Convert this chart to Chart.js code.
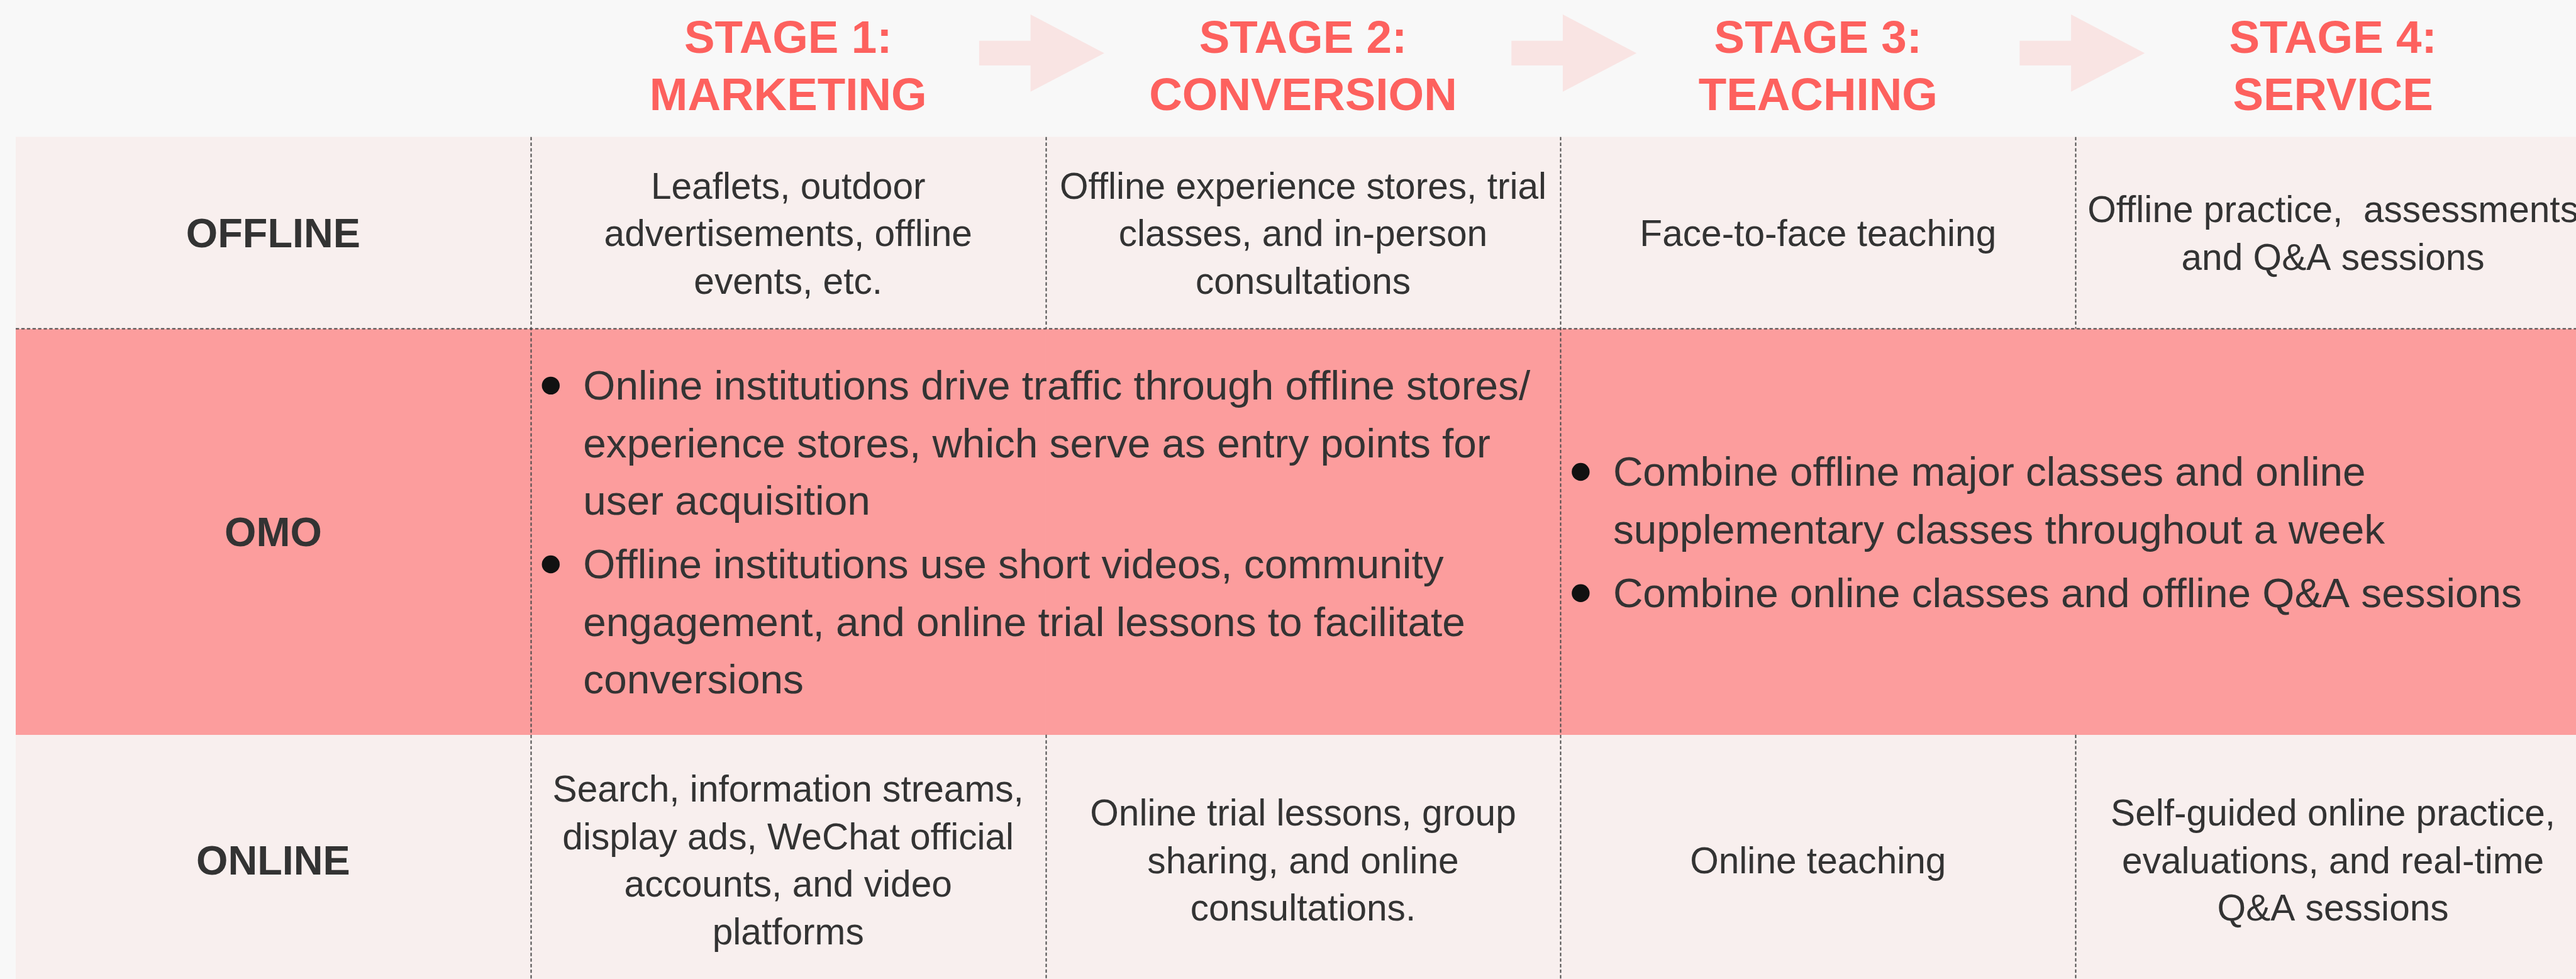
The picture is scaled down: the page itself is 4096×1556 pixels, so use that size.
<!DOCTYPE html>
<html>
<head>
<meta charset="utf-8">
<script src="https://cdn.jsdelivr.net/npm/chart.js@4.4.1/dist/chart.umd.min.js"></script>
<style>
html, body { margin: 0; padding: 0; background: #f8f8f8; overflow: hidden; }
#wrap { width: 4096px; height: 1556px; overflow: hidden; }
canvas { display: block; }
</style>
</head>
<body>
<div id="wrap"><canvas id="canvas" width="4119" height="1556"></canvas></div>
<script>
// table columns, the first one holds the row labels
const columns = ['', 'STAGE 1', 'STAGE 2', 'STAGE 3', 'STAGE 4']
const stageTitles = [
    ['STAGE 1:', 'MARKETING'],
    ['STAGE 2:', 'CONVERSION'],
    ['STAGE 3:', 'TEACHING'],
    ['STAGE 4:', 'SERVICE']
]
const rowLabels = ['OFFLINE', 'OMO', 'ONLINE']

const offlineCells = [
    ['Leaflets, outdoor', 'advertisements, offline', 'events, etc.'],
    ['Offline experience stores, trial', 'classes, and in-person', 'consultations'],
    ['Face-to-face teaching'],
    ['Offline practice,  assessments', 'and Q&A sessions']
]
const onlineCells = [
    ['Search, information streams,', 'display ads, WeChat official', 'accounts, and video', 'platforms'],
    ['Online trial lessons, group', 'sharing, and online', 'consultations.'],
    ['Online teaching'],
    ['Self-guided online practice,', 'evaluations, and real-time', 'Q&A sessions']
]
// omo cells are merged: stage 1+2 and stage 3+4
const omoSpans = [[1, 2], [3, 4]]
const omoCells = [
    [
        ['Online institutions drive traffic through offline stores/', 'experience stores, which serve as entry points for', 'user acquisition'],
        ['Offline institutions use short videos, community', 'engagement, and online trial lessons to facilitate', 'conversions']
    ],
    [
        ['Combine offline major classes and online', 'supplementary classes throughout a week'],
        ['Combine online classes and offline Q&A sessions']
    ]
]

// layout, in pixels of the original 4610 wide picture
const rowHeights = [245, 343, 726, 448] // header, offline, omo, online
const rowColors = ['#f8efee', '#fc9d9d', '#f8efee']
const arrowStart = [-119, -88, -100] // relative to the column border
const FONT = '"Liberation Sans", Arial, sans-serif'

const rowTops = []
let acc = 0
rowHeights.forEach(h => { rowTops.push(acc); acc += h })

const datasets = rowLabels.map((label, r) => {
    let top = rowTops[r + 1]
    let bottom = top + rowHeights[r + 1]
    return {
        label: label,
        data: columns.map(() => [top, bottom]),
        backgroundColor: rowColors[r],
        borderWidth: 0,
        barPercentage: 1,
        categoryPercentage: 1,
        grouped: false
    }
})

const drawLines = (ctx, lines, cx, cy, size, lh, k) => {
    let capH = size * 0.716
    let y = cy - (lines.length - 1) * lh / 2 + capH / 2
    lines.forEach((line, i) => {
        ctx.fillText(line, cx, (y + i * lh) * 1)
    })
}

const tablePlugin = {
    id: 'tablePlugin',
    beforeDraw(chart) {
        const ctx = chart.ctx
        ctx.save()
        ctx.fillStyle = '#f8f8f8'
        ctx.fillRect(0, 0, chart.width, chart.height)
        ctx.restore()
    },
    afterDatasetsDraw(chart) {
        const ctx = chart.ctx
        const area = chart.chartArea
        const yScale = chart.scales.y
        const colW = (area.right - area.left) / columns.length
        const k = colW / 922
        const colLeft = i => area.left + i * colW
        const colMid = i => area.left + (i + 0.5) * colW
        const Y = v => yScale.getPixelForValue(v)

        ctx.save()

        // arrows between the stages
        ctx.fillStyle = '#f9e4e3'
        for (let i = 0; i < 3; i++) {
            let b = colLeft(i + 2)
            let x0 = b + arrowStart[i] * k
            let x1 = x0 + 92 * k
            let x2 = x1 + 132 * k
            ctx.beginPath()
            ctx.moveTo(x0, Y(73))
            ctx.lineTo(x1, Y(73))
            ctx.lineTo(x1, Y(26))
            ctx.lineTo(x2, Y(95))
            ctx.lineTo(x1, Y(164))
            ctx.lineTo(x1, Y(117))
            ctx.lineTo(x0, Y(117))
            ctx.closePath()
            ctx.fill()
        }

        // stage titles
        ctx.fillStyle = '#fd615e'
        ctx.textAlign = 'center'
        ctx.textBaseline = 'alphabetic'
        ctx.font = 'bold ' + (82 * k) + 'px ' + FONT
        stageTitles.forEach((t, i) => {
            ctx.fillText(t[0], colMid(i + 1), Y(94))
            ctx.fillText(t[1], colMid(i + 1), Y(197))
        })

        // dashed borders
        ctx.strokeStyle = '#4a4a4a'
        ctx.lineWidth = 2.2 * k
        ctx.setLineDash([6 * k, 4 * k])
        const omoTop = rowTops[2]
        const omoBottom = rowTops[3]
        const bottom = rowTops[3] + rowHeights[3]
        ctx.beginPath()
        ctx.moveTo(area.left, Y(omoTop))
        ctx.lineTo(chart.width, Y(omoTop))
        ctx.stroke()
        for (let i = 1; i < columns.length; i++) {
            let x = Math.round(colLeft(i)) + 0.5
            ctx.beginPath()
            if (i % 2 === 1) {
                ctx.moveTo(x, Y(rowTops[1]))
                ctx.lineTo(x, Y(bottom))
            } else {
                ctx.moveTo(x, Y(rowTops[1]))
                ctx.lineTo(x, Y(omoTop))
                ctx.moveTo(x, Y(omoBottom))
                ctx.lineTo(x, Y(bottom))
            }
            ctx.stroke()
        }
        ctx.setLineDash([])

        // row labels
        ctx.fillStyle = '#333333'
        ctx.font = 'bold ' + (73 * k) + 'px ' + FONT
        rowLabels.forEach((label, r) => {
            let cy = Y(rowTops[r + 1] + rowHeights[r + 1] / 2)
            drawLines(ctx, [label], colMid(0), cy, 73 * k, 0, k)
        })

        // offline and online cells
        ctx.font = (66 * k) + 'px ' + FONT
        offlineCells.forEach((lines, i) => {
            let cy = Y(rowTops[1] + rowHeights[1] / 2)
            drawLines(ctx, lines, colMid(i + 1), cy, 66 * k, 85 * k, k)
        })
        onlineCells.forEach((lines, i) => {
            let cy = Y(rowTops[3] + rowHeights[3] / 2)
            drawLines(ctx, lines, colMid(i + 1), cy, 66 * k, 85 * k, k)
        })

        // omo bullet lists
        const size = 74 * k
        const lh = 103 * k
        const paraGap = 11 * k
        const capH = size * 0.716
        ctx.font = size + 'px ' + FONT
        ctx.textAlign = 'left'
        omoCells.forEach((paras, c) => {
            let left = colLeft(omoSpans[c][0])
            let nLines = paras.reduce((s, p) => s + p.length, 0)
            let blockH = capH + (nLines - 1) * lh + (paras.length - 1) * paraGap
            let cy = Y(omoTop + rowHeights[2] / 2)
            let y = cy - blockH / 2 + capH
            paras.forEach(p => {
                ctx.fillStyle = '#111111'
                ctx.beginPath()
                ctx.arc(left + 36 * k, y - 25 * k, 16 * k, 0, Math.PI * 2)
                ctx.fill()
                ctx.fillStyle = '#333333'
                p.forEach(line => {
                    ctx.fillText(line, left + 94 * k, y)
                    y += lh
                })
                y += paraGap
            })
        })

        ctx.restore()
    }
}

new Chart(document.querySelector('#canvas'), {
    type: 'bar',
    data: {
        labels: columns,
        datasets: datasets
    },
    options: {
        responsive: false,
        animation: false,
        devicePixelRatio: 1,
        layout: {
            padding: { left: 25, right: 0, top: 0, bottom: 0 }
        },
        scales: {
            x: { display: false },
            y: { display: false, reverse: true, min: 0, max: 1751 }
        },
        plugins: {
            legend: { display: false },
            tooltip: { enabled: false }
        },
        events: []
    },
    plugins: [tablePlugin]
})
</script>
</body>
</html>
